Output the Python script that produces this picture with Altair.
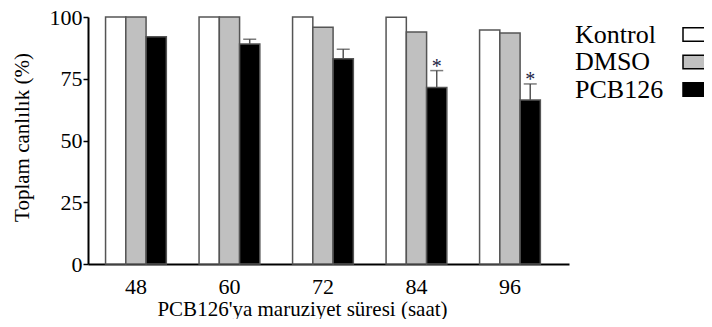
import altair as alt
import pandas as pd

hours = ["48", "60", "72", "84", "96"]
groups = ["Kontrol", "DMSO", "PCB126"]
colors = ["#ffffff", "#c0c0c0", "#000000"]
kontrol = [100, 100, 100, 99.9, 94.7]
dmso = [100, 100, 95.8, 93.9, 93.5]
pcb = [92.0, 89.1, 83.1, 71.5, 66.4]
pcb_err = [0, 1.9, 3.8, 6.8, 6.5]
sig = ["", "", "", "*", "*"]

rows = []
for i, h in enumerate(hours):
    for g, vals in zip(groups, [kontrol, dmso, pcb]):
        rows.append({"hour": h, "group": g, "value": vals[i]})
df = pd.DataFrame(rows)

err_df = pd.DataFrame({
    "hour": hours,
    "group": ["PCB126"] * len(hours),
    "value": pcb,
    "top": [v + e for v, e in zip(pcb, pcb_err)],
    "err": pcb_err,
    "sig": sig,
})
err_df = err_df[err_df["err"] > 0]

FONT = "Liberation Serif"

x_enc = alt.X(
    "hour:N",
    sort=hours,
    scale=alt.Scale(paddingInner=0.35, paddingOuter=0.247, align=0.38),
    axis=alt.Axis(
        title="PCB126'ya maruziyet süresi (saat)",
        labelAngle=0,
        ticks=False,
        labelPadding=29,
        labelBaseline="alphabetic",
        labelFont=FONT,
        labelFontSize=22,
        titleFont=FONT,
        titleFontSize=21,
        titleX=214,
        titleY=51,
        titleBaseline="alphabetic",
        titleAlign="center",
        titleFontWeight="normal",
    ),
)
xoff = alt.XOffset("group:N", sort=groups, scale=alt.Scale(domain=groups, paddingInner=0, paddingOuter=0))
y_scale = alt.Scale(domain=[0, 100], nice=False)

bars = alt.Chart(df).mark_bar(stroke="#555555", strokeWidth=1.5).encode(
    x=x_enc,
    xOffset=xoff,
    y=alt.Y(
        "value:Q",
        scale=y_scale,
        axis=alt.Axis(
            title="Toplam canlılık (%)",
            values=[0, 25, 50, 75, 100],
            grid=False,
            tickSize=5,
            labelPadding=1,
            labelFont=FONT,
            labelFontSize=22,
            titleFont=FONT,
            titleFontSize=21,
            titleX=-60,
            titleY=120,
            titleBaseline="alphabetic",
            titleAlign="center",
            titleFontWeight="normal",
        ),
    ),
    color=alt.Color(
        "group:N",
        sort=groups,
        scale=alt.Scale(domain=groups, range=colors),
        legend=alt.Legend(
            title=None,
            orient="none",
            legendX=593,
            legendY=4.5,
            direction="vertical",
            labelFontSize=26,
            labelFont=FONT,
            labelColor="#000000",
            labelAlign="left",
            labelOffset={"expr": "-132"},
            symbolType="M-1,-0.62H1V0.62H-1Z",
            symbolSize=484,
            symbolStrokeColor="#000000",
            symbolStrokeWidth=1.5,
            rowPadding=1.5,
            labelLimit=0,
        ),
    ),
)

rule = alt.Chart(err_df).mark_rule(color="#555555", strokeWidth=1.5).encode(
    x=alt.X("hour:N", sort=hours),
    xOffset=alt.XOffset("group:N", sort=groups),
    y="value:Q",
    y2="top:Q",
)
cap = alt.Chart(err_df).mark_tick(color="#444444", thickness=1.5, size=13, orient="horizontal").encode(
    x=alt.X("hour:N", sort=hours),
    xOffset=alt.XOffset("group:N", sort=groups),
    y="top:Q",
)
star = alt.Chart(err_df).mark_text(font=FONT, fontSize=20, baseline="alphabetic", dy=2.4, color="#222244").encode(
    x=alt.X("hour:N", sort=hours),
    xOffset=alt.XOffset("group:N", sort=groups),
    y="top:Q",
    text="sig:N",
)

chart = alt.layer(bars, rule, cap, star).properties(
    width=481,
    height=247,
    background="white",
    autosize=alt.AutoSizeParams(type="none"),
    padding={"left": 80, "top": 9, "right": 135, "bottom": 55},
).configure(font=FONT).configure_view(strokeWidth=0, stroke=None).configure_axis(
    domainColor="#000000",
    domainWidth=2,
    tickColor="#000000",
    tickWidth=1.5,
    labelColor="#000000",
    titleColor="#000000",
    labelFont=FONT,
    titleFont=FONT,
).configure_legend(labelFont=FONT)

chart.save("out.html", embed_options={"renderer": "svg", "actions": False})
